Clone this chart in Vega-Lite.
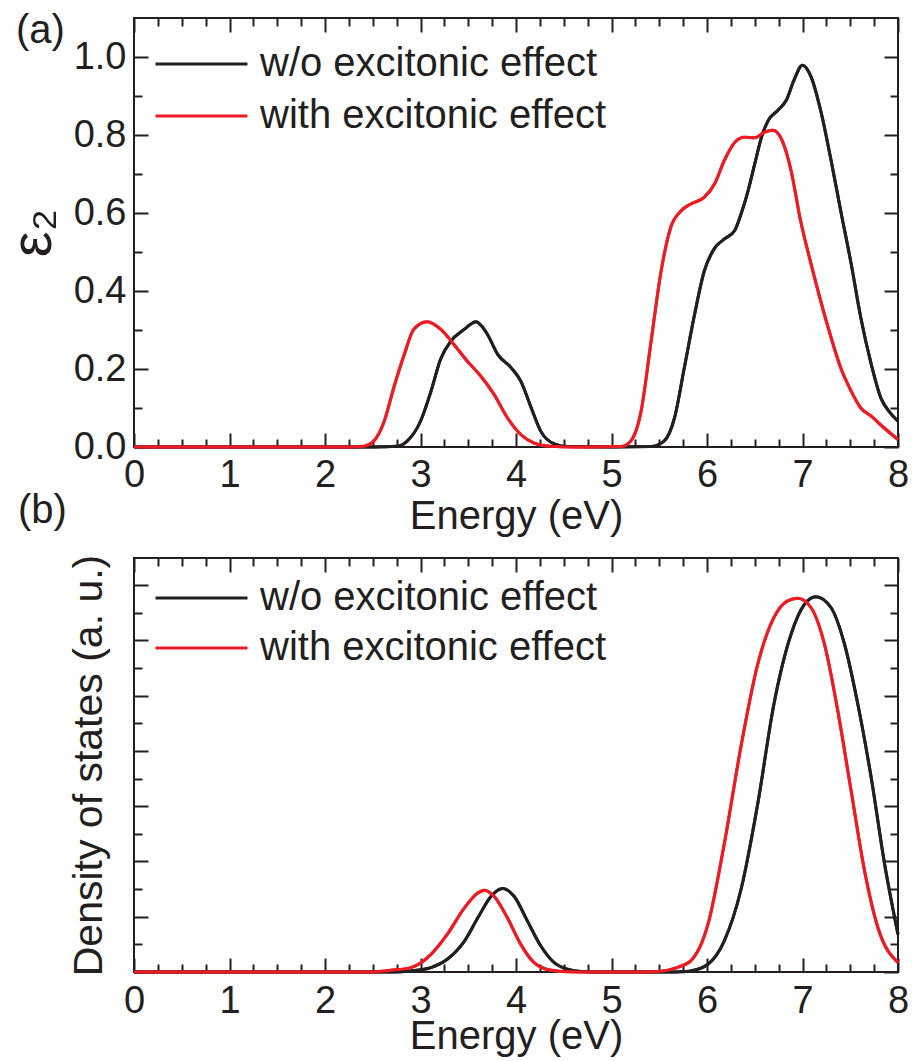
{
  "$schema": "https://vega.github.io/schema/vega-lite/v6.json",
  "background": "white",
  "padding": {"left": 3, "top": 9, "right": 5, "bottom": 5},
  "config": {
    "font": "Liberation Sans",
    "view": {"stroke": "#231f20", "strokeWidth": 2},
    "axis": {"domain": false, "grid": false, "ticks": true, "tickColor": "#231f20", "tickWidth": 2, "tickOpacity": 1, "zindex": 1, "labelFont": "Liberation Sans", "labelFontSize": 38, "labelColor": "#231f20", "titleFont": "Liberation Sans", "titleFontSize": 40, "titleFontWeight": "normal", "titleColor": "#231f20", "labelOverlap": false, "labelFlush": false, "minExtent": 0},
    "line": {"strokeWidth": 3, "interpolate": "monotone"}
  },
  "datasets": {
    "a": [
      {"s": "w/o excitonic effect", "x": 0, "y": 0}, {"s": "w/o excitonic effect", "x": 2.5, "y": 0}, {"s": "w/o excitonic effect", "x": 2.76, "y": 0.002}, {"s": "w/o excitonic effect", "x": 2.86, "y": 0.015}, {"s": "w/o excitonic effect", "x": 3.0, "y": 0.066}, {"s": "w/o excitonic effect", "x": 3.11, "y": 0.143}, {"s": "w/o excitonic effect", "x": 3.21, "y": 0.225}, {"s": "w/o excitonic effect", "x": 3.32, "y": 0.272}, {"s": "w/o excitonic effect", "x": 3.46, "y": 0.302}, {"s": "w/o excitonic effect", "x": 3.52, "y": 0.314}, {"s": "w/o excitonic effect", "x": 3.58, "y": 0.321}, {"s": "w/o excitonic effect", "x": 3.64, "y": 0.31}, {"s": "w/o excitonic effect", "x": 3.7, "y": 0.289}, {"s": "w/o excitonic effect", "x": 3.81, "y": 0.237}, {"s": "w/o excitonic effect", "x": 3.95, "y": 0.203}, {"s": "w/o excitonic effect", "x": 4.05, "y": 0.169}, {"s": "w/o excitonic effect", "x": 4.16, "y": 0.1}, {"s": "w/o excitonic effect", "x": 4.26, "y": 0.04}, {"s": "w/o excitonic effect", "x": 4.4, "y": 0.008}, {"s": "w/o excitonic effect", "x": 4.54, "y": 0.001}, {"s": "w/o excitonic effect", "x": 5.0, "y": 0}, {"s": "w/o excitonic effect", "x": 5.41, "y": 0.001}, {"s": "w/o excitonic effect", "x": 5.55, "y": 0.015}, {"s": "w/o excitonic effect", "x": 5.66, "y": 0.075}, {"s": "w/o excitonic effect", "x": 5.76, "y": 0.2}, {"s": "w/o excitonic effect", "x": 5.87, "y": 0.34}, {"s": "w/o excitonic effect", "x": 5.97, "y": 0.45}, {"s": "w/o excitonic effect", "x": 6.08, "y": 0.51}, {"s": "w/o excitonic effect", "x": 6.18, "y": 0.533}, {"s": "w/o excitonic effect", "x": 6.29, "y": 0.555}, {"s": "w/o excitonic effect", "x": 6.36, "y": 0.6}, {"s": "w/o excitonic effect", "x": 6.43, "y": 0.657}, {"s": "w/o excitonic effect", "x": 6.5, "y": 0.726}, {"s": "w/o excitonic effect", "x": 6.57, "y": 0.794}, {"s": "w/o excitonic effect", "x": 6.64, "y": 0.837}, {"s": "w/o excitonic effect", "x": 6.74, "y": 0.863}, {"s": "w/o excitonic effect", "x": 6.83, "y": 0.889}, {"s": "w/o excitonic effect", "x": 6.91, "y": 0.94}, {"s": "w/o excitonic effect", "x": 7.0, "y": 0.979}, {"s": "w/o excitonic effect", "x": 7.09, "y": 0.949}, {"s": "w/o excitonic effect", "x": 7.19, "y": 0.863}, {"s": "w/o excitonic effect", "x": 7.3, "y": 0.734}, {"s": "w/o excitonic effect", "x": 7.4, "y": 0.606}, {"s": "w/o excitonic effect", "x": 7.51, "y": 0.469}, {"s": "w/o excitonic effect", "x": 7.61, "y": 0.332}, {"s": "w/o excitonic effect", "x": 7.72, "y": 0.212}, {"s": "w/o excitonic effect", "x": 7.82, "y": 0.126}, {"s": "w/o excitonic effect", "x": 7.91, "y": 0.09}, {"s": "w/o excitonic effect", "x": 8.0, "y": 0.066},
      {"s": "with excitonic effect", "x": 0, "y": 0}, {"s": "with excitonic effect", "x": 2.3, "y": 0}, {"s": "with excitonic effect", "x": 2.41, "y": 0.002}, {"s": "with excitonic effect", "x": 2.51, "y": 0.015}, {"s": "with excitonic effect", "x": 2.62, "y": 0.066}, {"s": "with excitonic effect", "x": 2.72, "y": 0.152}, {"s": "with excitonic effect", "x": 2.83, "y": 0.237}, {"s": "with excitonic effect", "x": 2.93, "y": 0.302}, {"s": "with excitonic effect", "x": 3.07, "y": 0.321}, {"s": "with excitonic effect", "x": 3.21, "y": 0.302}, {"s": "with excitonic effect", "x": 3.35, "y": 0.263}, {"s": "with excitonic effect", "x": 3.49, "y": 0.22}, {"s": "with excitonic effect", "x": 3.63, "y": 0.182}, {"s": "with excitonic effect", "x": 3.77, "y": 0.135}, {"s": "with excitonic effect", "x": 3.91, "y": 0.075}, {"s": "with excitonic effect", "x": 4.05, "y": 0.032}, {"s": "with excitonic effect", "x": 4.19, "y": 0.01}, {"s": "with excitonic effect", "x": 4.36, "y": 0.002}, {"s": "with excitonic effect", "x": 4.6, "y": 0}, {"s": "with excitonic effect", "x": 5.1, "y": 0.001}, {"s": "with excitonic effect", "x": 5.2, "y": 0.015}, {"s": "with excitonic effect", "x": 5.31, "y": 0.092}, {"s": "with excitonic effect", "x": 5.41, "y": 0.263}, {"s": "with excitonic effect", "x": 5.52, "y": 0.452}, {"s": "with excitonic effect", "x": 5.62, "y": 0.563}, {"s": "with excitonic effect", "x": 5.73, "y": 0.606}, {"s": "with excitonic effect", "x": 5.83, "y": 0.623}, {"s": "with excitonic effect", "x": 5.97, "y": 0.64}, {"s": "with excitonic effect", "x": 6.08, "y": 0.675}, {"s": "with excitonic effect", "x": 6.18, "y": 0.734}, {"s": "with excitonic effect", "x": 6.29, "y": 0.781}, {"s": "with excitonic effect", "x": 6.39, "y": 0.794}, {"s": "with excitonic effect", "x": 6.5, "y": 0.793}, {"s": "with excitonic effect", "x": 6.6, "y": 0.807}, {"s": "with excitonic effect", "x": 6.69, "y": 0.812}, {"s": "with excitonic effect", "x": 6.77, "y": 0.794}, {"s": "with excitonic effect", "x": 6.88, "y": 0.709}, {"s": "with excitonic effect", "x": 6.98, "y": 0.58}, {"s": "with excitonic effect", "x": 7.09, "y": 0.469}, {"s": "with excitonic effect", "x": 7.19, "y": 0.375}, {"s": "with excitonic effect", "x": 7.3, "y": 0.28}, {"s": "with excitonic effect", "x": 7.4, "y": 0.203}, {"s": "with excitonic effect", "x": 7.51, "y": 0.143}, {"s": "with excitonic effect", "x": 7.61, "y": 0.1}, {"s": "with excitonic effect", "x": 7.72, "y": 0.079}, {"s": "with excitonic effect", "x": 7.85, "y": 0.05}, {"s": "with excitonic effect", "x": 8.0, "y": 0.019}
    ],
    "b": [
      {"s": "w/o excitonic effect", "x": 0, "y": 0}, {"s": "w/o excitonic effect", "x": 2.7, "y": 0}, {"s": "w/o excitonic effect", "x": 2.9, "y": 0.02}, {"s": "w/o excitonic effect", "x": 3.11, "y": 0.08}, {"s": "w/o excitonic effect", "x": 3.28, "y": 0.23}, {"s": "w/o excitonic effect", "x": 3.46, "y": 0.56}, {"s": "w/o excitonic effect", "x": 3.6, "y": 0.98}, {"s": "w/o excitonic effect", "x": 3.74, "y": 1.37}, {"s": "w/o excitonic effect", "x": 3.86, "y": 1.51}, {"s": "w/o excitonic effect", "x": 3.98, "y": 1.37}, {"s": "w/o excitonic effect", "x": 4.12, "y": 0.92}, {"s": "w/o excitonic effect", "x": 4.26, "y": 0.47}, {"s": "w/o excitonic effect", "x": 4.4, "y": 0.17}, {"s": "w/o excitonic effect", "x": 4.54, "y": 0.05}, {"s": "w/o excitonic effect", "x": 4.68, "y": 0.01}, {"s": "w/o excitonic effect", "x": 4.9, "y": 0}, {"s": "w/o excitonic effect", "x": 5.6, "y": 0}, {"s": "w/o excitonic effect", "x": 5.72, "y": 0.005}, {"s": "w/o excitonic effect", "x": 5.83, "y": 0.02}, {"s": "w/o excitonic effect", "x": 6.01, "y": 0.14}, {"s": "w/o excitonic effect", "x": 6.18, "y": 0.56}, {"s": "w/o excitonic effect", "x": 6.36, "y": 1.52}, {"s": "w/o excitonic effect", "x": 6.53, "y": 3.03}, {"s": "w/o excitonic effect", "x": 6.7, "y": 4.84}, {"s": "w/o excitonic effect", "x": 6.88, "y": 6.11}, {"s": "w/o excitonic effect", "x": 7.02, "y": 6.65}, {"s": "w/o excitonic effect", "x": 7.14, "y": 6.79}, {"s": "w/o excitonic effect", "x": 7.3, "y": 6.59}, {"s": "w/o excitonic effect", "x": 7.44, "y": 5.93}, {"s": "w/o excitonic effect", "x": 7.58, "y": 4.84}, {"s": "w/o excitonic effect", "x": 7.72, "y": 3.51}, {"s": "w/o excitonic effect", "x": 7.86, "y": 1.95}, {"s": "w/o excitonic effect", "x": 8.0, "y": 0.68},
      {"s": "with excitonic effect", "x": 0, "y": 0}, {"s": "with excitonic effect", "x": 2.5, "y": 0}, {"s": "with excitonic effect", "x": 2.69, "y": 0.03}, {"s": "with excitonic effect", "x": 2.9, "y": 0.08}, {"s": "with excitonic effect", "x": 3.11, "y": 0.32}, {"s": "with excitonic effect", "x": 3.28, "y": 0.68}, {"s": "with excitonic effect", "x": 3.46, "y": 1.16}, {"s": "with excitonic effect", "x": 3.6, "y": 1.43}, {"s": "with excitonic effect", "x": 3.67, "y": 1.48}, {"s": "with excitonic effect", "x": 3.77, "y": 1.37}, {"s": "with excitonic effect", "x": 3.91, "y": 0.98}, {"s": "with excitonic effect", "x": 4.05, "y": 0.5}, {"s": "with excitonic effect", "x": 4.19, "y": 0.17}, {"s": "with excitonic effect", "x": 4.37, "y": 0.03}, {"s": "with excitonic effect", "x": 4.54, "y": 0.005}, {"s": "with excitonic effect", "x": 4.8, "y": 0}, {"s": "with excitonic effect", "x": 5.3, "y": 0}, {"s": "with excitonic effect", "x": 5.48, "y": 0.01}, {"s": "with excitonic effect", "x": 5.7, "y": 0.09}, {"s": "with excitonic effect", "x": 5.83, "y": 0.2}, {"s": "with excitonic effect", "x": 6.01, "y": 0.86}, {"s": "with excitonic effect", "x": 6.18, "y": 2.31}, {"s": "with excitonic effect", "x": 6.36, "y": 4.12}, {"s": "with excitonic effect", "x": 6.53, "y": 5.56}, {"s": "with excitonic effect", "x": 6.7, "y": 6.41}, {"s": "with excitonic effect", "x": 6.84, "y": 6.71}, {"s": "with excitonic effect", "x": 6.95, "y": 6.76}, {"s": "with excitonic effect", "x": 7.09, "y": 6.59}, {"s": "with excitonic effect", "x": 7.23, "y": 5.93}, {"s": "with excitonic effect", "x": 7.37, "y": 4.72}, {"s": "with excitonic effect", "x": 7.51, "y": 3.27}, {"s": "with excitonic effect", "x": 7.65, "y": 1.83}, {"s": "with excitonic effect", "x": 7.79, "y": 0.8}, {"s": "with excitonic effect", "x": 8.0, "y": 0.17}
    ]
  },
  "spacing": 111,
  "bounds": "flush",
  "resolve": {"legend": {"color": "independent"}},
  "vconcat": [
    {
      "width": 764,
      "height": 429,
      "data": {"name": "a"},
      "layer": [
        {
          "transform": [{"filter": "datum.s === 'w/o excitonic effect'"}],
          "mark": {"type": "line"},
          "encoding": {
            "x": {"field": "x", "type": "quantitative", "scale": {"domain": [0, 8], "nice": false, "zero": false},
              "axis": {"orient": "bottom", "title": "Energy (eV)", "values": [0,1,2,3,4,5,6,7,8], "format": "d", "ticks": true, "tickColor": "#231f20", "tickWidth": 2, "tickSize": -14, "labelPadding": 23, "titlePadding": 2}},
            "y": {"field": "y", "type": "quantitative", "scale": {"domain": [0, 1.1], "nice": false, "zero": false},
              "axis": {"orient": "left", "title": "ε₂", "titleFontSize": 58, "values": [0,0.2,0.4,0.6,0.8,1.0], "format": ".1f", "ticks": true, "tickColor": "#231f20", "tickWidth": 2, "tickSize": -14, "labelPadding": 22, "titlePadding": 11}},
            "color": {"field": "s", "type": "nominal", "scale": {"domain": ["w/o excitonic effect", "with excitonic effect"], "range": ["#231f20", "#ed1c24"]},
              "legend": {"orient": "none", "legendX": 20, "legendY": 26, "title": null, "symbolType": "stroke", "symbolSize": 8464, "symbolStrokeWidth": 3, "clipHeight": 40, "labelFontSize": 40, "labelFont": "Liberation Sans", "labelColor": "#231f20", "labelOffset": 11, "labelLimit": 600, "rowPadding": 12, "padding": 0}}
          }
        },
        {
          "transform": [{"filter": "datum.s === 'with excitonic effect'"}],
          "mark": {"type": "line"},
          "encoding": {
            "x": {"field": "x", "type": "quantitative", "axis": {"orient": "top", "title": null, "labels": false, "values": [0,1,2,3,4,5,6,7,8], "ticks": true, "tickColor": "#231f20", "tickWidth": 2, "tickSize": -14}},
            "y": {"field": "y", "type": "quantitative", "axis": {"orient": "right", "title": null, "labels": false, "values": [0,0.2,0.4,0.6,0.8,1.0], "ticks": true, "tickColor": "#231f20", "tickWidth": 2, "tickSize": -14}},
            "color": {"field": "s", "type": "nominal"}
          }
        },
        {
          "transform": [{"filter": "datum.s === 'w/o excitonic effect'"}],
          "mark": {"type": "line"},
          "encoding": {
            "x": {"field": "x", "type": "quantitative", "axis": {"orient": "bottom", "title": null, "labels": false, "values": [0.25,0.5,0.75,1.25,1.5,1.75,2.25,2.5,2.75,3.25,3.5,3.75,4.25,4.5,4.75,5.25,5.5,5.75,6.25,6.5,6.75,7.25,7.5,7.75], "ticks": true, "tickColor": "#231f20", "tickWidth": 2, "tickSize": -8}},
            "y": {"field": "y", "type": "quantitative", "axis": {"orient": "left", "title": null, "labels": false, "values": [0.1,0.3,0.5,0.7,0.9], "ticks": true, "tickColor": "#231f20", "tickWidth": 2, "tickSize": -8}},
            "color": {"field": "s", "type": "nominal"}
          }
        },
        {
          "transform": [{"filter": "datum.s === 'with excitonic effect'"}],
          "mark": {"type": "line"},
          "encoding": {
            "x": {"field": "x", "type": "quantitative", "axis": {"orient": "top", "title": null, "labels": false, "values": [0.25,0.5,0.75,1.25,1.5,1.75,2.25,2.5,2.75,3.25,3.5,3.75,4.25,4.5,4.75,5.25,5.5,5.75,6.25,6.5,6.75,7.25,7.5,7.75], "ticks": true, "tickColor": "#231f20", "tickWidth": 2, "tickSize": -8}},
            "y": {"field": "y", "type": "quantitative", "axis": {"orient": "right", "title": null, "labels": false, "values": [0.1,0.3,0.5,0.7,0.9], "ticks": true, "tickColor": "#231f20", "tickWidth": 2, "tickSize": -8}},
            "color": {"field": "s", "type": "nominal"}
          }
        },
        {
          "data": {"values": [{}]},
          "mark": {"type": "text", "text": "(a)", "align": "left", "baseline": "alphabetic", "fontSize": 40, "font": "Liberation Sans", "color": "#231f20"},
          "encoding": {
            "x": {"datum": -1.236, "type": "quantitative", "axis": null},
            "y": {"datum": 1.037, "type": "quantitative", "axis": null}
          }
        }
      ],
      "resolve": {"axis": {"x": "independent", "y": "independent"}}
    },
    {
      "width": 764,
      "height": 414,
      "data": {"name": "b"},
      "layer": [
        {
          "transform": [{"filter": "datum.s === 'w/o excitonic effect'"}],
          "mark": {"type": "line"},
          "encoding": {
            "x": {"field": "x", "type": "quantitative", "scale": {"domain": [0, 8], "nice": false, "zero": false},
              "axis": {"orient": "bottom", "title": "Energy (eV)", "values": [0,1,2,3,4,5,6,7,8], "format": "d", "ticks": true, "tickColor": "#231f20", "tickWidth": 2, "tickSize": -14, "labelPadding": 24, "titlePadding": -4}},
            "y": {"field": "y", "type": "quantitative", "scale": {"domain": [0, 7.49], "nice": false, "zero": false},
              "axis": {"orient": "left", "title": "Density of states (a. u.)", "titleFontSize": 41, "labels": false, "values": [0,1,2,3,4,5,6,7], "ticks": true, "tickColor": "#231f20", "tickWidth": 2, "tickSize": -14, "titlePadding": 23}},
            "color": {"field": "s", "type": "nominal", "scale": {"domain": ["w/o excitonic effect", "with excitonic effect"], "range": ["#231f20", "#ed1c24"]},
              "legend": {"orient": "none", "legendX": 20, "legendY": 20, "title": null, "symbolType": "stroke", "symbolSize": 8464, "symbolStrokeWidth": 3, "clipHeight": 40, "labelFontSize": 40, "labelFont": "Liberation Sans", "labelColor": "#231f20", "labelOffset": 11, "labelLimit": 600, "rowPadding": 10, "padding": 0}}
          }
        },
        {
          "transform": [{"filter": "datum.s === 'with excitonic effect'"}],
          "mark": {"type": "line"},
          "encoding": {
            "x": {"field": "x", "type": "quantitative", "axis": {"orient": "top", "title": null, "labels": false, "values": [0,1,2,3,4,5,6,7,8], "ticks": true, "tickColor": "#231f20", "tickWidth": 2, "tickSize": -14}},
            "y": {"field": "y", "type": "quantitative", "axis": {"orient": "right", "title": null, "labels": false, "values": [0,1,2,3,4,5,6,7], "ticks": true, "tickColor": "#231f20", "tickWidth": 2, "tickSize": -14}},
            "color": {"field": "s", "type": "nominal"}
          }
        },
        {
          "transform": [{"filter": "datum.s === 'w/o excitonic effect'"}],
          "mark": {"type": "line"},
          "encoding": {
            "x": {"field": "x", "type": "quantitative", "axis": {"orient": "bottom", "title": null, "labels": false, "values": [0.25,0.5,0.75,1.25,1.5,1.75,2.25,2.5,2.75,3.25,3.5,3.75,4.25,4.5,4.75,5.25,5.5,5.75,6.25,6.5,6.75,7.25,7.5,7.75], "ticks": true, "tickColor": "#231f20", "tickWidth": 2, "tickSize": -8}},
            "y": {"field": "y", "type": "quantitative", "axis": {"orient": "left", "title": null, "labels": false, "values": [0.5,1.5,2.5,3.5,4.5,5.5,6.5], "ticks": true, "tickColor": "#231f20", "tickWidth": 2, "tickSize": -8}},
            "color": {"field": "s", "type": "nominal"}
          }
        },
        {
          "transform": [{"filter": "datum.s === 'with excitonic effect'"}],
          "mark": {"type": "line"},
          "encoding": {
            "x": {"field": "x", "type": "quantitative", "axis": {"orient": "top", "title": null, "labels": false, "values": [0.25,0.5,0.75,1.25,1.5,1.75,2.25,2.5,2.75,3.25,3.5,3.75,4.25,4.5,4.75,5.25,5.5,5.75,6.25,6.5,6.75,7.25,7.5,7.75], "ticks": true, "tickColor": "#231f20", "tickWidth": 2, "tickSize": -8}},
            "y": {"field": "y", "type": "quantitative", "axis": {"orient": "right", "title": null, "labels": false, "values": [0.5,1.5,2.5,3.5,4.5,5.5,6.5], "ticks": true, "tickColor": "#231f20", "tickWidth": 2, "tickSize": -8}},
            "color": {"field": "s", "type": "nominal"}
          }
        },
        {
          "data": {"values": [{}]},
          "mark": {"type": "text", "text": "(b)", "align": "left", "baseline": "alphabetic", "fontSize": 40, "font": "Liberation Sans", "color": "#231f20"},
          "encoding": {
            "x": {"datum": -1.215, "type": "quantitative", "axis": null},
            "y": {"datum": 8.13, "type": "quantitative", "axis": null}
          }
        }
      ],
      "resolve": {"axis": {"x": "independent", "y": "independent"}}
    }
  ]
}
